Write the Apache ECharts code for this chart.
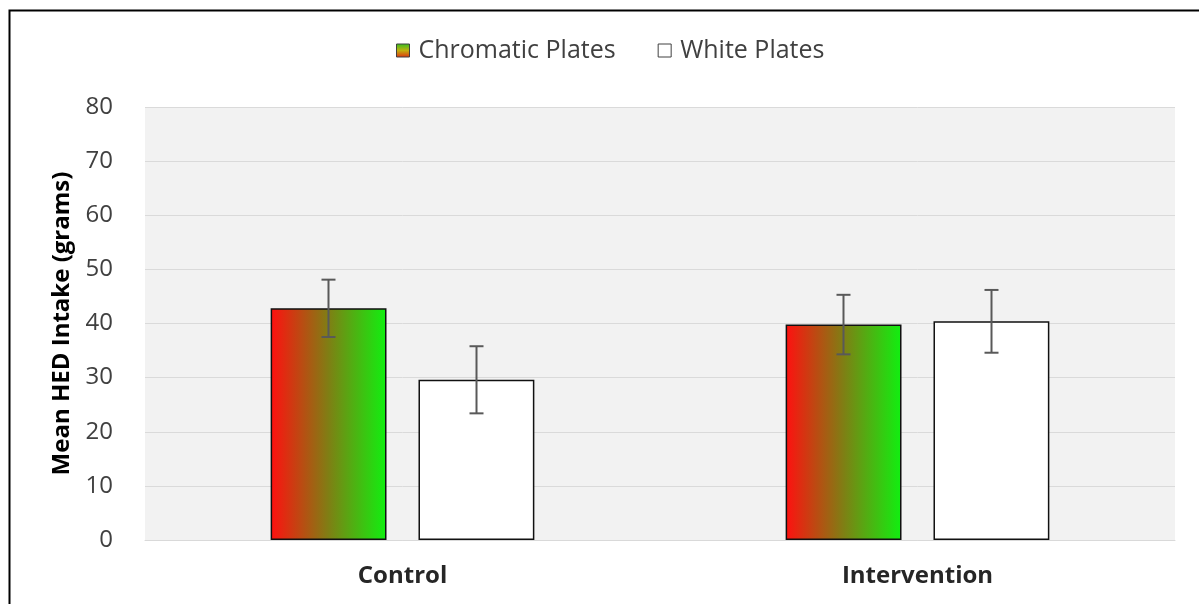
<!DOCTYPE html>
<html>
<head>
<meta charset="utf-8">
<script src="https://cdn.jsdelivr.net/npm/echarts@6/dist/echarts.min.js"></script>
<style>html,body{margin:0;padding:0;background:#fff;}#c{width:1199px;height:604px;}</style>
</head>
<body>
<div id="c"></div>
<script>
var categories = ['Control', 'Intervention'];
var chromaticMeans = [42.8, 39.8];
var chromaticErr = [5.3, 5.5];
var whiteMeans = [29.6, 40.4];
var whiteErr = [6.2, 5.8];
var yTicks = [0, 10, 20, 30, 40, 50, 60, 70, 80];

var chart = echarts.init(document.getElementById('c'));
var FONT = 'Open Sans';
var gradH = new echarts.graphic.LinearGradient(0, 0, 1, 0, [
  {offset: 0, color: '#ff1010'},
  {offset: 0.5, color: '#7f7f14'},
  {offset: 1, color: '#10f010'}
]);
var gradV = new echarts.graphic.LinearGradient(0, 0, 0, 1, [
  {offset: 0, color: '#30c020'},
  {offset: 0.5, color: '#c0b010'},
  {offset: 1, color: '#e03010'}
]);

function errData(means, errs) {
  return means.map(function (m, i) { return [i, m - errs[i], m + errs[i]]; });
}
function makeErr(sign) {
  return function (params, api) {
    var cat = api.value(0);
    var lo = api.coord([cat, api.value(1)]);
    var hi = api.coord([cat, api.value(2)]);
    var band = api.size([1, 0])[0];
    var x = lo[0] + sign * band * 0.1437;
    var cap = 7;
    var st = {stroke: '#595959', lineWidth: 2};
    return {type: 'group', children: [
      {type: 'line', shape: {x1: x, y1: hi[1], x2: x, y2: lo[1]}, style: st},
      {type: 'line', shape: {x1: x - cap, y1: hi[1], x2: x + cap, y2: hi[1]}, style: st},
      {type: 'line', shape: {x1: x - cap, y1: lo[1], x2: x + cap, y2: lo[1]}, style: st}
    ]};
  };
}

chart.setOption({
  backgroundColor: '#ffffff',
  animation: false,
  graphic: [{
    type: 'rect', left: 7, top: 8, shape: {width: 1300, height: 700},
    style: {fill: 'none', stroke: '#000', lineWidth: 2}, z: 100
  }],
  legend: {
    top: 33, left: 391, itemGap: 42, itemWidth: 13, itemHeight: 13,
    textStyle: {fontFamily: FONT, fontSize: 25, color: '#404040', padding: [0, 0, 0, 4]},
    data: [
      {name: 'Chromatic Plates', icon: 'rect', itemStyle: {color: gradV, borderColor: '#404040', borderWidth: 1}},
      {name: 'White Plates', icon: 'rect', itemStyle: {color: '#fff', borderColor: '#404040', borderWidth: 1}}
    ]
  },
  grid: {left: 145, right: 24, top: 107, bottom: 64, show: true, backgroundColor: '#f2f2f2', borderWidth: 0},
  xAxis: {
    type: 'category', data: categories,
    axisLine: {lineStyle: {color: '#d9d9d9', width: 1}},
    axisTick: {show: false},
    axisLabel: {fontFamily: FONT, fontSize: 24, fontWeight: 'bold', color: '#262626', margin: 24}
  },
  yAxis: {
    type: 'value', min: yTicks[0], max: yTicks[yTicks.length - 1], interval: 10,
    name: 'Mean HED Intake (grams)', nameLocation: 'middle', nameGap: 70,
    nameTextStyle: {fontFamily: FONT, fontSize: 24, fontWeight: 'bold', color: '#000'},
    axisLine: {show: false}, axisTick: {show: false},
    axisLabel: {fontFamily: FONT, fontSize: 24, color: '#404040', margin: 32},
    splitLine: {lineStyle: {color: '#dadada', width: 1}}
  },
  series: [
    {name: 'Chromatic Plates', type: 'bar', data: chromaticMeans, barWidth: '22.5%', barGap: '27.6%',
     itemStyle: {color: gradH, borderColor: '#111', borderWidth: 1.5}},
    {name: 'White Plates', type: 'bar', data: whiteMeans, barWidth: '22.5%', barGap: '27.6%',
     itemStyle: {color: '#ffffff', borderColor: '#111', borderWidth: 1.5}},
    {type: 'custom', renderItem: makeErr(-1), data: errData(chromaticMeans, chromaticErr), z: 10, silent: true},
    {type: 'custom', renderItem: makeErr(1), data: errData(whiteMeans, whiteErr), z: 10, silent: true}
  ]
});
</script>
</body>
</html>
